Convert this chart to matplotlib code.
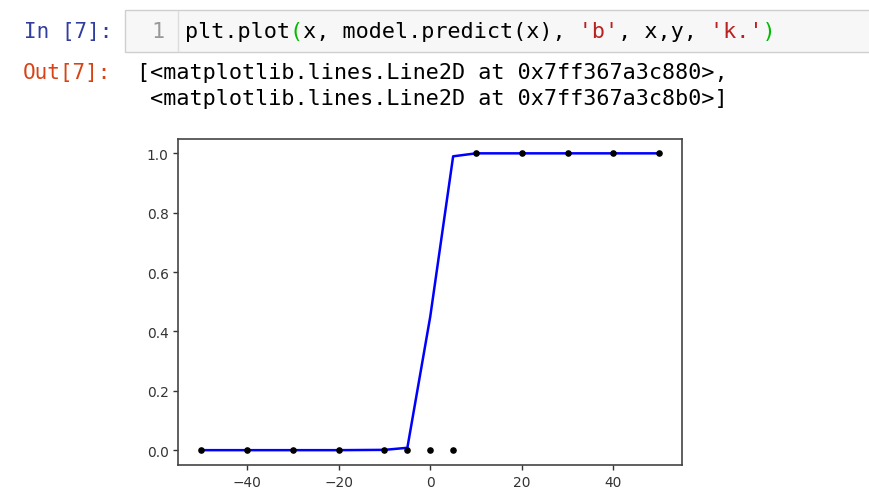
import matplotlib
matplotlib.use("Agg")
import matplotlib.pyplot as plt
import matplotlib.transforms as mtransforms
from matplotlib.patches import Rectangle

# data
x = [-50, -40, -30, -20, -10, -5, 0, 5, 10, 20, 30, 40, 50]
y = [0, 0, 0, 0, 0, 0, 0, 0, 1, 1, 1, 1, 1]
pred = [0.0, 0.0, 0.0, 0.0, 0.001, 0.008, 0.45, 0.99, 1.0, 1.0, 1.0, 1.0, 1.0]
yticks = [0.0, 0.2, 0.4, 0.6, 0.8, 1.0]
xticks = [-40, -20, 0, 20, 40]

code = "plt.plot(x, model.predict(x), 'b', x,y, 'k.')"
out1 = "[<matplotlib.lines.Line2D at 0x7ff367a3c880>,"
out2 = " <matplotlib.lines.Line2D at 0x7ff367a3c8b0>]"

W, H = 870, 502
fig = plt.figure(figsize=(W / 100, H / 100), dpi=100)
fig.patch.set_facecolor("white")
ident = mtransforms.IdentityTransform()

def px(xp, yp):
    return xp, H - yp

mono = "DejaVu Sans Mono"
fs = 15.7
fsp = 15.1

# code cell box
box = Rectangle(px(124.5, 52.5), 760, 41.5, transform=ident,
                facecolor="#f7f7f7", edgecolor="#cfcfcf", linewidth=1.0)
fig.add_artist(box)
sep = plt.Line2D([178, 178], [H - 52, H - 12], transform=ident,
                 color="#dddddd", linewidth=1.0)
fig.add_artist(sep)

# prompts
fig.text(*px(24, 38), "In [7]:", transform=ident, family=mono, fontsize=fsp,
         color="#303F9F", va="baseline", ha="left")
fig.text(*px(23, 79), "Out[7]:", transform=ident, family=mono, fontsize=fsp,
         color="#D84315", va="baseline", ha="left")
fig.text(*px(158, 38), "1", transform=ident, family=mono, fontsize=fs,
         color="#999999", va="baseline", ha="center")

# code line, split into colour layers with spaces keeping alignment
def mask(s, keep):
    return "".join(c if keep(i, c) else " " for i, c in enumerate(s))

paren_idx = {code.index("("), len(code) - 1}
str_idx = set()
inside = False
for i, c in enumerate(code):
    if c == "'":
        str_idx.add(i)
        inside = not inside
    elif inside:
        str_idx.add(i)

layers = [
    (mask(code, lambda i, c: i not in paren_idx and i not in str_idx), "#000000"),
    (mask(code, lambda i, c: i in paren_idx), "#00bb00"),
    (mask(code, lambda i, c: i in str_idx), "#BA2121"),
]
for s, col in layers:
    fig.text(*px(185, 38), s, transform=ident, family=mono, fontsize=fs,
             color=col, va="baseline", ha="left")

fig.text(*px(137, 79), out1, transform=ident, family=mono, fontsize=fs,
         color="#000000", va="baseline", ha="left")
fig.text(*px(137, 105), out2, transform=ident, family=mono, fontsize=fs,
         color="#000000", va="baseline", ha="left")

# plot
ax = fig.add_axes([178.5 / W, 1 - 466 / H, (682 - 178.5) / W, (466 - 139.5) / H])
ax.plot(x, pred, 'b', x, y, 'k.', linewidth=1.8, markersize=7.5)
ax.set_xticks(xticks)
ax.set_yticks(yticks)
ax.tick_params(labelsize=9.9, colors="#333333", width=1.0)
for sp in ax.spines.values():
    sp.set_color("#444444")
    sp.set_linewidth(1.2)

fig.savefig("out.png", dpi=100)
